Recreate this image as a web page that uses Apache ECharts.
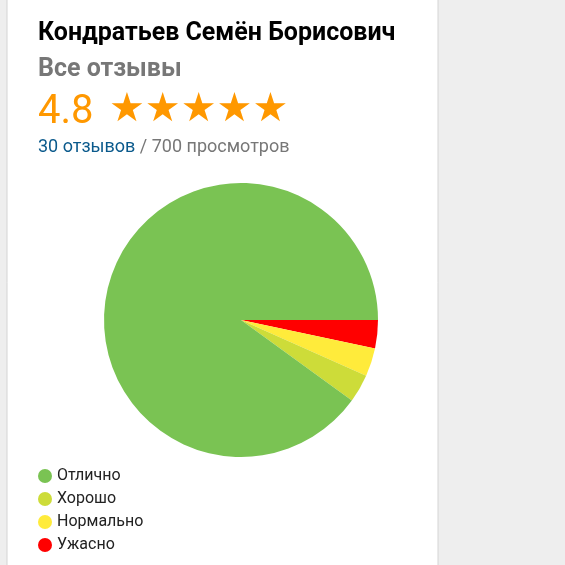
<!DOCTYPE html>
<html><head><meta charset="utf-8">
<script src="https://cdn.jsdelivr.net/npm/echarts@6/dist/echarts.min.js"></script>
<style>html,body{margin:0;padding:0;background:#eeeeee}#c{width:565px;height:565px}</style>
</head><body><div id="c"></div>
<script>
const names = ['Ужасно', 'Нормально', 'Хорошо', 'Отлично'];
const counts = [1, 1, 1, 27];
const colors = ['#ff0000', '#ffeb3b', '#cddc39', '#7ac353'];
const legendOrder = ['Отлично', 'Хорошо', 'Нормально', 'Ужасно'];

let chart = echarts.init(document.getElementById('c'));
const font = 'Roboto, "Noto Sans", sans-serif';
chart.setOption({
    backgroundColor: '#eeeeee',
    graphic: [
        {type: 'rect', shape: {x: 7, y: -2, width: 431, height: 570}, style: {fill: '#fff', stroke: '#d4d4d4', lineWidth: 1}, z: -10}
    ],
    title: [
        {text: 'Кондратьев Семён Борисович', left: 33, top: 16, textStyle: {fontFamily: font, fontSize: 25, fontWeight: 'bold', color: '#000'}},
        {text: 'Все отзывы', left: 33, top: 52, textStyle: {fontFamily: font, fontSize: 25, fontWeight: 'bold', color: '#777'}},
        {text: '4.8', left: 33, top: 88, textStyle: {fontFamily: font, fontSize: 40, fontWeight: 'normal', color: '#ff9800'}},
        {text: '★★★★★', left: 104, top: 86, textStyle: {fontFamily: '"DejaVu Sans", sans-serif', fontSize: 40, fontWeight: 'normal', color: '#ff9800'}},
        {text: '{a|30 отзывов} / 700 просмотров', left: 33, top: 133, textStyle: {fontFamily: font, fontSize: 18, fontWeight: 'normal', color: '#777', rich: {a: {fontFamily: font, fontSize: 18, color: '#0b5a8c'}}}}
    ],
    legend: {
        data: legendOrder,
        orient: 'vertical',
        left: 33, top: 463,
        icon: 'circle',
        itemWidth: 14, itemHeight: 14,
        itemGap: 7,
        textStyle: {fontFamily: font, fontSize: 16, color: '#222'}
    },
    series: [{
        type: 'pie',
        center: [241, 320],
        radius: 137,
        startAngle: 0,
        clockwise: true,
        label: {show: false},
        labelLine: {show: false},
        itemStyle: {borderWidth: 0},
        emphasis: {disabled: true},
        data: names.map((n, i) => ({name: n, value: counts[i], itemStyle: {color: colors[i]}}))
    }]
});
</script></body></html>
